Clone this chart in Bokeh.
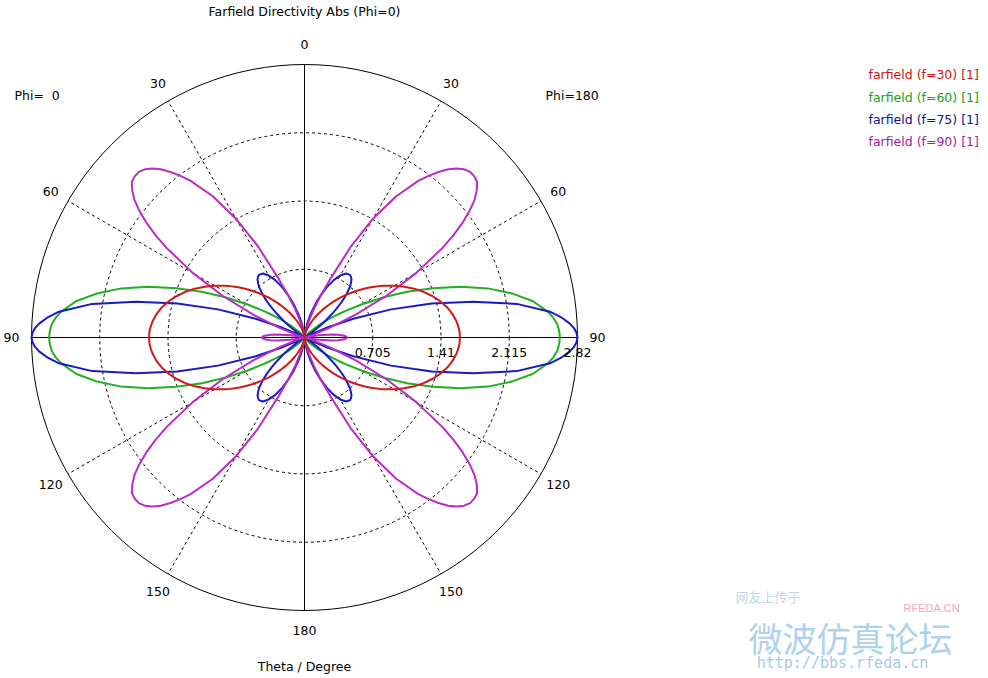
import numpy as np
from bokeh.plotting import figure
from bokeh.models import Range1d
from bokeh.core.properties import value
from bokeh.embed import file_html
from bokeh.resources import INLINE

# ---------------- data ----------------
theta_deg = [0, 3, 6, 9, 12, 15, 18, 21, 24, 27, 30, 33, 36, 37.5, 39, 40.5, 42, 43.5, 45,
             46.5, 48, 49.5, 51, 52.5, 54, 55.5, 57, 60, 63, 66, 69, 72, 75, 78, 81, 84,
             85.5, 87, 88, 89, 90, 91, 92, 93, 94.5, 96, 99, 102, 105, 108, 111, 114, 117,
             120, 123, 124.5, 126, 127.5, 129, 130.5, 132, 133.5, 135, 136.5, 138, 139.5,
             141, 142.5, 144, 147, 150, 153, 156, 159, 162, 165, 168, 171, 174, 177, 180]

dir_f30 = [0.000, 0.003, 0.011, 0.025, 0.044, 0.069, 0.099, 0.136, 0.178, 0.226, 0.280,
           0.340, 0.406, 0.441, 0.477, 0.514, 0.553, 0.592, 0.633, 0.675, 0.717, 0.760,
           0.803, 0.847, 0.892, 0.937, 0.981, 1.070, 1.157, 1.240, 1.317, 1.388, 1.451,
           1.505, 1.548, 1.579, 1.590, 1.599, 1.603, 1.604, 1.605,
           1.604, 1.603, 1.599, 1.590, 1.579, 1.548, 1.505, 1.451, 1.388, 1.317, 1.240,
           1.157, 1.070, 0.981, 0.937, 0.892, 0.847, 0.803, 0.760, 0.717, 0.675, 0.633,
           0.592, 0.553, 0.514, 0.477, 0.441, 0.406, 0.340, 0.280, 0.226, 0.178, 0.136,
           0.099, 0.069, 0.044, 0.025, 0.011, 0.003, 0.000]

dir_f60 = [0.000, 0.000, 0.001, 0.002, 0.003, 0.003, 0.003, 0.003, 0.001, 0.000, 0.000,
           0.002, 0.009, 0.016, 0.024, 0.036, 0.050, 0.070, 0.092, 0.121, 0.155, 0.196,
           0.242, 0.297, 0.358, 0.428, 0.506, 0.686, 0.910, 1.160, 1.420, 1.700, 1.960,
           2.190, 2.390, 2.530, 2.580, 2.615, 2.626, 2.634, 2.638,
           2.634, 2.626, 2.615, 2.580, 2.530, 2.390, 2.190, 1.960, 1.700, 1.420, 1.160,
           0.910, 0.686, 0.506, 0.428, 0.358, 0.297, 0.242, 0.196, 0.155, 0.121, 0.092,
           0.070, 0.050, 0.036, 0.024, 0.016, 0.009, 0.002, 0.000, 0.000, 0.001, 0.003,
           0.003, 0.003, 0.003, 0.002, 0.001, 0.000, 0.000]

dir_f75 = [0.000, 0.011, 0.045, 0.099, 0.173, 0.261, 0.360, 0.467, 0.569, 0.665, 0.740,
           0.788, 0.800, 0.789, 0.771, 0.738, 0.699, 0.645, 0.587, 0.518, 0.446, 0.369,
           0.292, 0.218, 0.148, 0.090, 0.041, 0.000, 0.060, 0.240, 0.540, 0.940, 1.360,
           1.780, 2.220, 2.550, 2.660, 2.745, 2.785, 2.810, 2.820,
           2.810, 2.785, 2.745, 2.660, 2.550, 2.220, 1.780, 1.360, 0.940, 0.540, 0.240,
           0.060, 0.000, 0.041, 0.090, 0.148, 0.218, 0.292, 0.369, 0.446, 0.518, 0.587,
           0.645, 0.699, 0.738, 0.771, 0.789, 0.800, 0.788, 0.740, 0.665, 0.569, 0.467,
           0.360, 0.261, 0.173, 0.099, 0.045, 0.011, 0.000]

dir_f90 = [0.000, 0.006, 0.025, 0.060, 0.110, 0.180, 0.300, 0.450, 0.680, 1.050, 1.420,
           1.740, 2.000, 2.105, 2.200, 2.285, 2.350, 2.395, 2.420, 2.418, 2.400, 2.340,
           2.260, 2.150, 2.020, 1.870, 1.700, 1.330, 0.950, 0.580, 0.270, 0.080, 0.005,
           0.036, 0.149, 0.288, 0.350, 0.398, 0.420, 0.435, 0.440,
           0.435, 0.420, 0.398, 0.350, 0.288, 0.149, 0.036, 0.005, 0.080, 0.270, 0.580,
           0.950, 1.330, 1.700, 1.870, 2.020, 2.150, 2.260, 2.340, 2.400, 2.418, 2.420,
           2.395, 2.350, 2.285, 2.200, 2.105, 2.000, 1.740, 1.420, 1.050, 0.680, 0.450,
           0.300, 0.180, 0.110, 0.060, 0.025, 0.006, 0.000]

series_names = ["farfield (f=30) [1]", "farfield (f=60) [1]",
                "farfield (f=75) [1]", "farfield (f=90) [1]"]

radial_ticks = [0.705, 1.41, 2.115, 2.82]
radial_tick_labels = ["0.705", "1.41", "2.115", "2.82"]
angle_ticks = [0, 30, 60, 90, 120, 150, 180]
angle_tick_labels = ["0", "30", "60", "90", "120", "150", "180"]

title_text = "Farfield Directivity Abs (Phi=0)"
xlabel_text = "Theta / Degree"
phi_left_text = "Phi=\u00a0\u00a00"
phi_right_text = "Phi=180"

# ---------------- layout ----------------
RMAX = radial_ticks[-1]
PX = 273.0 / RMAX            # pixels per directivity unit
W, H = 988, 678
CX, CY = 304, 337            # polar origin inside the figure (px from left / top)
FONT = value("DejaVu Sans")
FS = value("12.5px")


def rx(xr):  # page pixel -> data
    return (xr - CX) / PX


def ry(yr):
    return (CY - yr) / PX


p = figure(width=W, height=H, output_backend="svg", toolbar_location=None,
           x_range=Range1d(-CX / PX, (W - CX) / PX),
           y_range=Range1d(-(H - CY) / PX, CY / PX),
           min_border=0, x_axis_location=None, y_axis_location=None)
for g in p.grid:
    g.visible = False
p.outline_line_color = None
p.background_fill_color = "white"
p.border_fill_color = "white"

# dotted grid circles and solid outer circle
p.circle(x=[0] * 3, y=[0] * 3, radius=radial_ticks[:-1], fill_color=None,
         line_color="black", line_width=1, line_dash="3 3")
p.circle(x=[0], y=[0], radius=[RMAX], fill_color=None, line_color="black", line_width=1)

# radial dashed spokes (30, 60, 120, 150 on both halves)
sp = [a for a in angle_ticks if a % 90 != 0]
sp_rad = np.radians(sp)
r0, r1 = radial_ticks[0], RMAX
x0 = np.concatenate([r0 * np.sin(sp_rad), -r0 * np.sin(sp_rad)])
y0 = np.concatenate([r0 * np.cos(sp_rad), r0 * np.cos(sp_rad)])
x1 = np.concatenate([r1 * np.sin(sp_rad), -r1 * np.sin(sp_rad)])
y1 = np.concatenate([r1 * np.cos(sp_rad), r1 * np.cos(sp_rad)])
p.segment(x0=x0, y0=y0, x1=x1, y1=y1, line_color="black", line_width=1, line_dash="3 3")

# solid axes
p.segment(x0=[0, -RMAX], y0=[-RMAX, 0], x1=[0, RMAX], y1=[RMAX, 0],
          line_color="black", line_width=1)

# ---------------- curves ----------------
th = np.radians(theta_deg)
line_colors = ["#d01a1a", "#22b022", "#1a1ac4", "#bb2cc2"]
text_colors = ["#cc1111", "#1c9c1c", "#101090", "#a020a0"]
data = [dir_f30, dir_f60, dir_f75, dir_f90]
order = [1, 2, 3, 0]
for i in order:
    r = np.array(data[i])
    xs = np.concatenate([-r * np.sin(th), (r * np.sin(th))[::-1]])
    ys = np.concatenate([r * np.cos(th), (r * np.cos(th))[::-1]])
    p.line(xs, ys, line_color=line_colors[i], line_width=2, line_join="round")

# ---------------- texts ----------------
# radial tick labels under the horizontal axis
p.text(x=radial_ticks, y=[0] * 4, text=radial_tick_labels, y_offset=15,
       text_font=FONT, text_font_size=FS, text_align="center", text_baseline="middle",
       text_color="black")

# angle labels on both halves
RL = RMAX + 20 / PX
al = np.radians(angle_ticks)
ax_ = list(RL * np.sin(al)) + list(-RL * np.sin(al[1:-1]))
ay_ = list(RL * np.cos(al)) + list(RL * np.cos(al[1:-1]))
at_ = angle_tick_labels + angle_tick_labels[1:-1]
p.text(x=ax_, y=ay_, text=at_, text_font=FONT, text_font_size=FS,
       text_align="center", text_baseline="middle", text_color="black")

# title, axis title, phi labels
p.text(x=[rx(304), rx(304)], y=[ry(11), ry(666)], text=[title_text, xlabel_text],
       text_font=FONT, text_font_size=FS, text_align="center", text_baseline="middle",
       text_color="black")
p.text(x=[rx(14), rx(545)], y=[ry(95), ry(95)], text=[phi_left_text, phi_right_text],
       text_font=FONT, text_font_size=FS, text_align="left", text_baseline="middle",
       text_color="black")

# legend (top right)
ly = [74, 97, 119, 141]
p.text(x=[rx(868)] * 4, y=[ry(v) for v in ly], text=series_names,
       text_color=text_colors, text_font=FONT, text_font_size=FS,
       text_align="left", text_baseline="middle")

# watermark (bottom right)
p.text(x=[rx(735)], y=[ry(596)], text=["网友上传于"], text_font=value("Noto Sans CJK SC"),
       text_font_size=value("13px"), text_color="#c6d6e6", text_align="left",
       text_baseline="middle")
p.text(x=[rx(903)], y=[ry(607)], text=["RFEDA.CN"], text_font=value("Liberation Sans"),
       text_font_size=value("11px"), text_color="#f2a6c6", text_align="left",
       text_baseline="middle")
p.text(x=[rx(850)], y=[ry(637)], text=["微波仿真论坛"], text_font=value("Noto Sans CJK SC"),
       text_font_size=value("34px"), text_color="#aed2ee", text_align="center",
       text_baseline="middle")
p.text(x=[rx(842)], y=[ry(662)], text=["http://bbs.rfeda.cn"],
       text_font=value("DejaVu Sans Mono"), text_font_size=value("15px"),
       text_color="#a6cae6", text_align="center", text_baseline="middle")

open("out.html", "w").write(file_html(p, INLINE))
